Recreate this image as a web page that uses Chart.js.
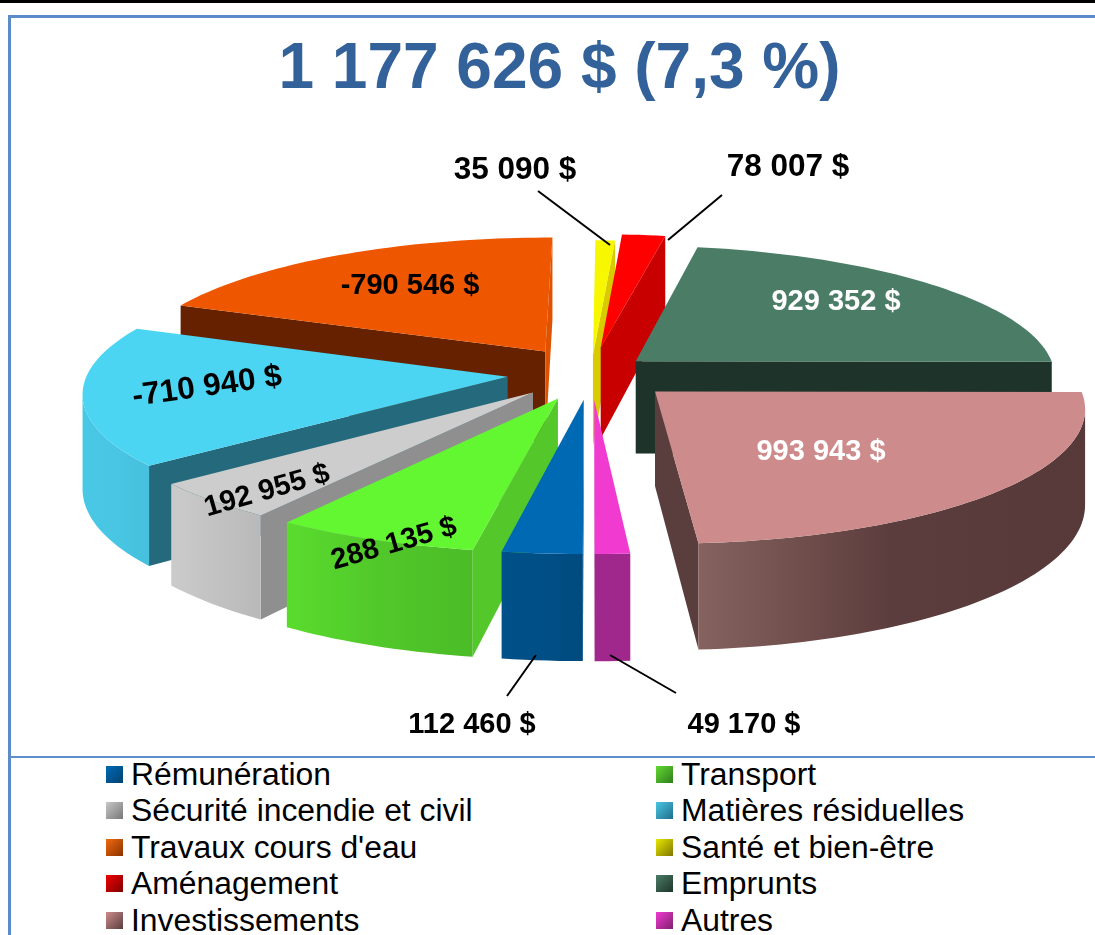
<!DOCTYPE html>
<html lang="fr">
<head>
<meta charset="utf-8">
<title>Écarts budgétaires</title>
<script src="https://cdn.jsdelivr.net/npm/chart.js@4/dist/chart.umd.min.js"></script>
<style>
    html, body { margin: 0; padding: 0; background: #fff; }
    body { position: relative; width: 1095px; height: 935px; overflow: hidden; font-family: "Liberation Sans", Arial, sans-serif; }
    #topBar { position: absolute; left: 0; top: 0; width: 1095px; height: 3px; background: #000; }
    #frame { position: absolute; left: 8px; top: 15px; width: 1087px; height: 920px; border-left: 3px solid #5b8bc8; border-top: 3px solid #5b8bc8; box-sizing: border-box; }
    #divider { position: absolute; left: 10px; top: 756px; width: 1085px; height: 2px; background: #5f8fcb; }
    #chartBox { position: absolute; left: 0; top: 0; width: 1095px; height: 756px; }
    #legend { position: absolute; left: 0; top: 756px; width: 1095px; }
    .item { position: absolute; font-size: 31.85px; line-height: 36px; color: #000; white-space: nowrap; }
    .item i { position: absolute; left: -25px; top: 10px; width: 17px; height: 17px; }
</style>
</head>
<body>
<div id="topBar"></div>
<div id="frame"></div>
<div id="chartBox"><canvas id="pie"></canvas></div>
<div id="divider"></div>
<div id="legend"></div>
<script>
const titleText = '1 177 626 $ (7,3 %)';
const categories = ['Rémunération', 'Transport', 'Sécurité incendie et civil', 'Matières résiduelles', "Travaux cours d'eau",
    'Santé et bien-être', 'Aménagement', 'Emprunts', 'Investissements', 'Autres'];
const amounts = [112460, 288135, 192955, -710940, -790546, 35090, 78007, 929352, 993943, 49170];

// Explosion of each slice, in % of the radius
const explode = [20, 20.5, 20, 20, 20, 14, 20, 14, 20.5, 20];

const topColors = ['#0069b4', '#63f732', '#cdcdcd', '#4bd5f3', '#ee5700', '#f7f700', '#ff0000', '#4b7d66', '#cd8b8b', '#f03ad0'];
const wallColors = [
    ['#005089', '#004f86', '#004a7e'],
    ['#5adc2e', '#51c82a', '#4bbc27'],
    ['#cbcbcb', '#c2c2c2', '#b9b9b9'],
    ['#49c8e6', '#48c6e4', '#46c0dd'],
    ['#e05200', '#e05200', '#e05200'],
    ['#d8cc00', '#d8cc00', '#d8cc00'],
    ['#c80000', '#c80000', '#c80000'],
    ['#1e342a', '#1e342a', '#1e342a'],
    ['#85625e', '#5c3d3d', '#57393a'],
    ['#a0288c', '#a0288c', '#a0288c']
];
const startCutColors = ['#004f86', '#54c82b', '#8f8f8f', '#256a7c', '#662200', '#d8cc00', '#c80000', '#1e342a', '#5a3e3e', '#a0288c'];
const endCutColors = ['#004f86', '#54c82b', '#8f8f8f', '#256a7c', '#e05200', '#d8cc00', '#c80000', '#1e342a', '#5a3e3e', '#a0288c'];
const swatchColors = ['#0069b4,#004272', '#63d832,#2f7f1c', '#c8c8c8,#777', '#4bc5e3,#1f6f8a', '#f06a10,#8a3200',
    '#e8e800,#7f7700', '#f00000,#800000', '#4b7d66,#1e342a', '#cd8b8b,#5a3e3e', '#f03ad0,#80206f'];

// Data label layout: [x, y, rotation in degrees, colour, font size]
const labelLayout = [
    [472, 725, 0, '#000', 29], [394, 544, -16, '#000', 29], [267, 491, -16, '#000', 29], [207, 387, -8, '#000', 31.5], [410, 286, 0, '#000', 29],
    [515, 170, 0, '#000', 31.5], [788, 167, 0, '#000', 31.5], [836, 302, 0, '#fff', 29], [821, 452, 0, '#fff', 29], [744, 725, 0, '#000', 29]
];
const leaderLines = [[507, 696, 536, 655], [538, 191, 610, 245], [722, 195, 668, 240], [676, 693, 610, 655]];

const formatAmount = (value) => {
    const digits = String(Math.abs(value)).replace(/\B(?=(\d{3})+$)/g, ' ');
    return (value < 0 ? '-' : '') + digits + ' $';
};

// Perspective used for the pie plane
const CX = 591, CY = 373, RX = 420, RY = 131, DEPTH = 93, PERSPECTIVE = 0.11;
const project = (u, v, down) => {
    const w = 1 / (1 - PERSPECTIVE * v);
    return { x: CX + u * RX * w, y: CY + v * RY * w + (down ? DEPTH * w : 0) };
};

const fillPoly = (ctx, points, fill) => {
    ctx.beginPath();
    points.forEach((p, i) => (i ? ctx.lineTo(p.x, p.y) : ctx.moveTo(p.x, p.y)));
    ctx.closePath();
    ctx.fillStyle = fill;
    ctx.fill();
};

const drawSlice = (ctx, arc, i) => {
    const mid = (arc.startAngle + arc.endAngle) / 2;
    const e = arc.options.offset / 100;
    const ox = Math.cos(mid) * e, oy = Math.sin(mid) * e;
    const steps = Math.max(2, Math.ceil((arc.endAngle - arc.startAngle) / 0.025));
    const model = [[ox, oy]];
    for (let s = 0; s <= steps; s++) {
        const a = arc.startAngle + (arc.endAngle - arc.startAngle) * s / steps;
        model.push([ox + Math.cos(a), oy + Math.sin(a)]);
    }
    const upper = model.map((m) => project(m[0], m[1], false));
    const lower = model.map((m) => project(m[0], m[1], true));
    const n = model.length;

    // Side faces: seen only when the clockwise outline runs right to left
    const seen = (j) => upper[(j + 1) % n].x < upper[j].x;
    if (seen(0)) fillPoly(ctx, [upper[0], upper[1], lower[1], lower[0]], startCutColors[i]);
    if (seen(n - 1)) fillPoly(ctx, [upper[n - 1], upper[0], lower[0], lower[n - 1]], endCutColors[i]);

    // Outer wall in one piece, so the gradient has no seams
    const xs = upper.slice(1).map((p) => p.x);
    const wall = ctx.createLinearGradient(Math.min(...xs), 0, Math.max(...xs), 0);
    wallColors[i].forEach((c, k) => wall.addColorStop(k / 2, c));
    const top = [], bottom = [];
    for (let j = 1; j < n - 1; j++) {
        if (!seen(j)) continue;
        if (!top.length) { top.push(upper[j]); bottom.push(lower[j]); }
        top.push(upper[j + 1]);
        bottom.push(lower[j + 1]);
    }
    if (top.length) fillPoly(ctx, top.concat(bottom.reverse()), wall);

    fillPoly(ctx, upper, topColors[i]);
};

const pie3d = {
    id: 'pie3d',
    beforeDatasetsDraw(chart) {
        const ctx = chart.ctx;
        const arcs = chart.getDatasetMeta(0).data;
        const depthOf = (arc) => Math.sin((arc.startAngle + arc.endAngle) / 2);
        const order = arcs.map((arc, i) => i).sort((a, b) => depthOf(arcs[a]) - depthOf(arcs[b]));
        ctx.save();
        order.forEach((i) => drawSlice(ctx, arcs[i], i));
        ctx.restore();
        return false;
    },
    afterDraw(chart) {
        const ctx = chart.ctx;
        ctx.save();
        ctx.strokeStyle = '#000';
        ctx.lineWidth = 2;
        leaderLines.forEach((l) => {
            ctx.beginPath();
            ctx.moveTo(l[0], l[1]);
            ctx.lineTo(l[2], l[3]);
            ctx.stroke();
        });
        ctx.textAlign = 'center';
        ctx.textBaseline = 'middle';
        amounts.forEach((value, i) => {
            const [x, y, rot, color, size] = labelLayout[i];
            ctx.save();
            ctx.translate(x, y);
            ctx.rotate(rot * Math.PI / 180);
            ctx.font = 'bold ' + size + 'px "Liberation Sans"';
            ctx.fillStyle = color;
            ctx.fillText(formatAmount(value), 0, 0);
            ctx.restore();
        });
        ctx.restore();
    }
};

new Chart(document.getElementById('pie'), {
    type: 'pie',
    plugins: [pie3d],
    data: {
        labels: categories,
        datasets: [{
            data: amounts.map(Math.abs),
            backgroundColor: topColors,
            offset: explode,
            borderWidth: 0
        }]
    },
    options: {
        responsive: true,
        maintainAspectRatio: false,
        animation: false,
        events: [],
        rotation: 180,
        layout: { padding: { left: 24 } },
        plugins: {
            legend: { display: false },
            tooltip: { enabled: false },
            title: {
                display: true,
                text: titleText,
                color: '#336199',
                font: { family: '"Liberation Sans"', size: 64, weight: 'bold' },
                padding: { top: 32, bottom: 0 }
            }
        }
    }
});

// Legend, two columns
const legend = document.getElementById('legend');
categories.forEach((name, i) => {
    const item = document.createElement('div');
    item.className = 'item';
    item.style.left = (i % 2 ? 681 : 131) + 'px';
    item.style.top = (Math.floor(i / 2) * 36.4) + 'px';
    item.textContent = name;
    const swatch = document.createElement('i');
    swatch.style.background = 'linear-gradient(135deg,' + swatchColors[i] + ')';
    item.prepend(swatch);
    legend.appendChild(item);
});
</script>
</body>
</html>
